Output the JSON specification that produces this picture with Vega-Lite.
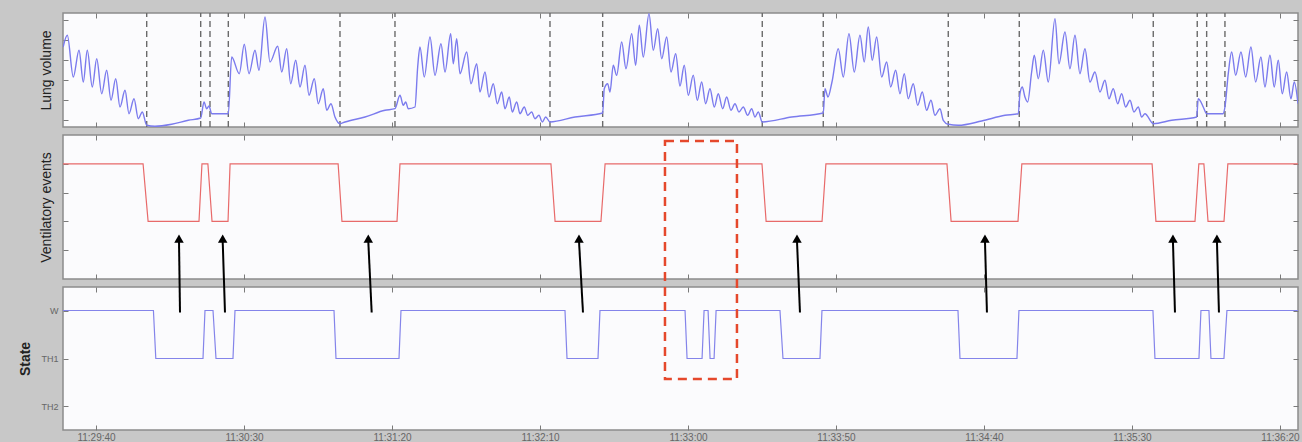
{
  "$schema": "https://vega.github.io/schema/vega-lite/v6.json",
  "background": "#c8c8c8",
  "padding": {"left": 18, "top": 11, "right": 1, "bottom": 0},
  "spacing": 8,
  "bounds": "flush",
  "config": {
    "font": "Liberation Sans",
    "view": {"fill": "#fbfbfd", "stroke": "#8c8c8c", "strokeWidth": 1.5},
    "axis": {"domain": false, "grid": false, "tickColor": "#7a7a7a", "tickSize": -5, "labelColor": "#666666", "titleColor": "#222222", "titleFontSize": 14, "titleFontWeight": "normal", "labelOverlap": false, "labelFlush": false}
  },
  "datasets": {
    "lung": [
      {"t":-11.1,"v":80},{"t":-9.7,"v":91.7},{"t":-7.67,"v":50},{"t":-5.74,"v":76.7},{"t":-4.29,"v":45},{"t":-2.94,"v":76.7},{"t":-1.25,"v":40},{"t":0.24,"v":68.3},{"t":1.93,"v":33.3},{"t":3.61,"v":56.7},{"t":5.07,"v":26.7},{"t":6.66,"v":48.3},{"t":8.11,"v":20},{"t":9.8,"v":36.7},{"t":11.15,"v":13.3},{"t":12.84,"v":28.3},{"t":14.29,"v":8.3},{"t":15.64,"v":15},{"t":17.13,"v":1.7},
      {"t":19.93,"v":0.7},{"t":25.57,"v":2.7},{"t":31.18,"v":6.7},{"t":35.37,"v":9},{"t":36.49,"v":25},{"t":37.4,"v":18.3},{"t":38.18,"v":21},{"t":39.09,"v":13.3},{"t":44.7,"v":13.3},
      {"t":45.84,"v":70},{"t":48.41,"v":53.3},{"t":50.1,"v":82.7},{"t":51.69,"v":53.3},{"t":53.72,"v":76.7},{"t":55.07,"v":56.7},{"t":57.09,"v":110},{"t":58.78,"v":65},{"t":61.39,"v":80.7},{"t":62.74,"v":55},{"t":64.43,"v":78.3},{"t":65.78,"v":43.3},{"t":67.47,"v":66.7},{"t":68.92,"v":40},{"t":70.61,"v":61.7},{"t":71.96,"v":31.7},{"t":73.75,"v":48.3},{"t":75.1,"v":23.3},{"t":76.79,"v":38.3},{"t":77.94,"v":16.7},{"t":79.39,"v":23.3},{"t":80.74,"v":10},{"t":82.43,"v":3.3},
      {"t":84.12,"v":5},{"t":90.88,"v":10},{"t":97.64,"v":16.7},{"t":101.01,"v":18.3},{"t":102.7,"v":31.7},{"t":103.82,"v":21.7},{"t":104.63,"v":25},{"t":105.51,"v":18.3},{"t":107.77,"v":20},
      {"t":108.68,"v":60},{"t":109.46,"v":80},{"t":110.91,"v":50},{"t":112.84,"v":90},{"t":114.53,"v":51.7},{"t":116.55,"v":83.3},{"t":117.91,"v":55},{"t":119.83,"v":93.3},{"t":120.71,"v":63.3},{"t":121.86,"v":88.3},{"t":122.97,"v":53.3},{"t":125.24,"v":75},{"t":126.69,"v":43.3},{"t":128.62,"v":63.3},{"t":129.73,"v":35},{"t":131.42,"v":55},{"t":132.77,"v":30},{"t":134.23,"v":43.3},{"t":135.57,"v":23.3},{"t":137.06,"v":35},{"t":138.18,"v":18.3},{"t":139.63,"v":30},{"t":140.64,"v":15},{"t":142.13,"v":25},{"t":143.24,"v":13.3},{"t":144.7,"v":20},{"t":145.85,"v":11.7},{"t":147.2,"v":15},{"t":148.31,"v":8.3},{"t":149.66,"v":11.7},{"t":150.78,"v":5},{"t":151.93,"v":10},{"t":153.38,"v":5},
      {"t":161.83,"v":10},{"t":171.18,"v":14},
      {"t":171.72,"v":38.3},{"t":172.87,"v":43.3},{"t":173.65,"v":35},{"t":174.76,"v":61.7},{"t":175.91,"v":51.7},{"t":177.6,"v":85},{"t":179.06,"v":58.3},{"t":180.98,"v":93.3},{"t":182.33,"v":61.7},{"t":183.55,"v":101.7},{"t":184.9,"v":70},{"t":186.83,"v":113.3},{"t":188.28,"v":76.7},{"t":189.77,"v":98.3},{"t":191.12,"v":68.3},{"t":192.81,"v":90},{"t":194.26,"v":55},{"t":195.85,"v":73.3},{"t":197.3,"v":41},{"t":198.75,"v":61.7},{"t":200.1,"v":31.7},{"t":201.79,"v":51.7},{"t":203.14,"v":26.7},{"t":204.63,"v":45},{"t":205.98,"v":23.3},{"t":207.43,"v":38.3},{"t":208.89,"v":20},{"t":210.24,"v":33.3},{"t":211.72,"v":18.3},{"t":213.08,"v":30},{"t":214.53,"v":16.7},{"t":215.88,"v":23.3},{"t":217.23,"v":15},{"t":218.69,"v":20},{"t":220.17,"v":11.7},{"t":221.52,"v":18.3},{"t":222.64,"v":10},{"t":223.75,"v":15},{"t":225.1,"v":5},
      {"t":235.03,"v":10},{"t":245.71,"v":14},
      {"t":246.29,"v":38.3},{"t":247.3,"v":30},{"t":248.65,"v":45},{"t":250.78,"v":78.3},{"t":252.47,"v":50},{"t":254.39,"v":93.3},{"t":256.19,"v":55},{"t":258.11,"v":91.7},{"t":259.56,"v":65},{"t":260.91,"v":100},{"t":262.26,"v":66.7},{"t":263.75,"v":90},{"t":265.44,"v":50},{"t":267.13,"v":65},{"t":268.48,"v":40},{"t":270.17,"v":56.7},{"t":271.62,"v":33.3},{"t":273.08,"v":53.3},{"t":274.43,"v":28.3},{"t":276.12,"v":43.3},{"t":277.6,"v":21.7},{"t":279.16,"v":35},{"t":280.64,"v":16.7},{"t":282.1,"v":26.7},{"t":283.45,"v":11.7},{"t":285.14,"v":18.3},{"t":286.25,"v":6.7},{"t":287.94,"v":2.7},
      {"t":291.32,"v":1.7},{"t":299.23,"v":6},{"t":307.1,"v":11.7},{"t":311.59,"v":13.3},
      {"t":312.16,"v":33.3},{"t":312.94,"v":40},{"t":313.85,"v":30},{"t":314.76,"v":25},{"t":316.11,"v":55},{"t":317.0,"v":71.7},{"t":318.35,"v":48.3},{"t":320.04,"v":76.7},{"t":321.73,"v":45},{"t":323.99,"v":108.3},{"t":325.34,"v":63.3},{"t":327.37,"v":95},{"t":329.06,"v":58.3},{"t":330.75,"v":91.7},{"t":332.43,"v":53.3},{"t":334.12,"v":78.3},{"t":335.81,"v":45},{"t":337.5,"v":55},{"t":339.19,"v":35},{"t":340.88,"v":46.7},{"t":342.23,"v":28.3},{"t":343.69,"v":38.3},{"t":345.17,"v":23.3},{"t":346.52,"v":33.3},{"t":347.87,"v":20},{"t":349.33,"v":26.7},{"t":350.68,"v":15},{"t":352.13,"v":20},{"t":353.28,"v":10},{"t":354.39,"v":13.3},{"t":357.2,"v":3.3},
      {"t":363.41,"v":6.7},{"t":371.86,"v":10},{"t":372.4,"v":28.3},{"t":373.31,"v":25},{"t":374.09,"v":20},{"t":375.24,"v":13.3},{"t":380.85,"v":13.3},{"t":381.42,"v":20},
      {"t":382.54,"v":53.3},{"t":383.69,"v":75},{"t":385.04,"v":51.7},{"t":386.83,"v":75},{"t":388.42,"v":50},{"t":390.2,"v":80},{"t":391.79,"v":45},{"t":393.58,"v":70},{"t":394.93,"v":40},{"t":396.62,"v":71.7},{"t":398.08,"v":40},{"t":399.43,"v":66.7},{"t":400.78,"v":33.3},{"t":402.26,"v":55},{"t":403.72,"v":28.3},{"t":404.84,"v":45},{"t":406.1,"v":23.3}
    ],
    "dashes": [
      {"t":17.13},{"t":35.37},{"t":38.51},{"t":44.7},{"t":82.43},{"t":101.01},{"t":153.38},{"t":171.18},{"t":225.1},{"t":245.71},{"t":287.94},{"t":311.93},{"t":357.2},{"t":372.06},{"t":375.24},{"t":381.42}
    ],
    "events": [
      {"t":-11.15,"e":4},{"t":15.9,"e":4},{"t":17.6,"e":2},{"t":34.8,"e":2},{"t":35.8,"e":4},{"t":37.8,"e":4},{"t":39.2,"e":2},{"t":44.6,"e":2},{"t":45.3,"e":4},{"t":81.8,"e":4},{"t":83.1,"e":2},{"t":101.7,"e":2},{"t":102.7,"e":4},{"t":153.7,"e":4},{"t":155.1,"e":2},{"t":170.6,"e":2},{"t":172.0,"e":4},{"t":225.0,"e":4},{"t":226.4,"e":2},{"t":245.3,"e":2},{"t":246.6,"e":4},{"t":287.5,"e":4},{"t":288.9,"e":2},{"t":311.5,"e":2},{"t":312.8,"e":4},{"t":356.8,"e":4},{"t":358.1,"e":2},{"t":371.3,"e":2},{"t":372.6,"e":4},{"t":374.3,"e":4},{"t":375.7,"e":2},{"t":381.1,"e":2},{"t":382.4,"e":4},{"t":406.1,"e":4}
    ],
    "state": [
      {"t":-11.15,"s":2},{"t":19.4,"s":2},{"t":20.2,"s":1},{"t":36.15,"s":1},{"t":36.82,"s":2},{"t":39.53,"s":2},{"t":40.54,"s":1},{"t":46.28,"s":1},{"t":46.96,"s":2},{"t":80.41,"s":2},{"t":81.08,"s":1},{"t":102.37,"s":1},{"t":103.04,"s":2},{"t":158.45,"s":2},{"t":159.13,"s":1},{"t":169.6,"s":1},{"t":170.27,"s":2},{"t":199.01,"s":2},{"t":199.69,"s":1},{"t":204.76,"s":1},{"t":205.44,"s":2},{"t":206.79,"s":2},{"t":207.47,"s":1},{"t":208.82,"s":1},{"t":209.5,"s":2},{"t":231.08,"s":2},{"t":232.1,"s":1},{"t":244.6,"s":1},{"t":245.27,"s":2},{"t":291.22,"s":2},{"t":291.9,"s":1},{"t":311.15,"s":1},{"t":311.82,"s":2},{"t":357.09,"s":2},{"t":357.77,"s":1},{"t":372.64,"s":1},{"t":373.31,"s":2},{"t":376.01,"s":2},{"t":376.69,"s":1},{"t":381.08,"s":1},{"t":382.09,"s":2},{"t":406.1,"s":2}
    ],
    "arrows": [
      {"from":28.38,"to":28.04},{"from":43.58,"to":42.8},{"from":93.14,"to":91.99},{"from":164.53,"to":163.18},{"from":237.84,"to":236.83},{"from":301.01,"to":300.34},{"from":364.53,"to":363.85},{"from":379.39,"to":378.71}
    ],
    "box": [{"t0":192.23,"t1":216.55}]
  },
  "vconcat": [
    {
      "width": 1235,
      "height": 114,
      "resolve": {"axis": {"x": "independent", "y": "independent"}},
      "layer": [
        {
          "data": {"name": "dashes"},
          "mark": {"type": "rule", "color": "#6a6a6a", "strokeDash": [6, 4], "strokeWidth": 1.4},
          "encoding": {
            "x": {"field": "t", "type": "quantitative", "scale": {"domain": [-11.15, 406.1], "nice": false, "zero": false}, "axis": {"orient": "top", "labels": false, "title": null, "values": [0, 50, 100, 150, 200, 250, 300, 350, 400]}},
            "y": {"datum": 0, "type": "quantitative", "scale": {"domain": [0, 114], "nice": false, "zero": false}, "axis": {"orient": "right", "labels": false, "title": null, "values": [7, 27, 47, 67, 87, 107]}},
            "y2": {"datum": 114}
          }
        },
        {
          "data": {"name": "lung"},
          "mark": {"type": "line", "interpolate": "monotone", "color": "#7b7bee", "strokeWidth": 1.4, "clip": true},
          "encoding": {
            "x": {"field": "t", "type": "quantitative", "axis": {"orient": "bottom", "labels": false, "title": null, "values": [0, 50, 100, 150, 200, 250, 300, 350, 400]}},
            "y": {"field": "v", "type": "quantitative", "axis": {"orient": "left", "labels": false, "title": "Lung volume", "titlePadding": 9, "values": [7, 27, 47, 67, 87, 107]}}
          }
        }
      ]
    },
    {
      "width": 1235,
      "height": 144,
      "data": {"name": "events"},
      "resolve": {"axis": {"x": "independent", "y": "independent"}},
      "layer": [
        {
          "mark": {"type": "line", "color": "#e86a6a", "strokeWidth": 1.2},
          "encoding": {
            "x": {"field": "t", "type": "quantitative", "scale": {"domain": [-11.15, 406.1], "nice": false, "zero": false}, "axis": {"orient": "bottom", "labels": false, "title": null, "values": [0, 50, 100, 150, 200, 250, 300, 350, 400]}},
            "y": {"field": "e", "type": "quantitative", "scale": {"domain": [0, 5], "nice": false, "zero": false}, "axis": {"orient": "left", "labels": false, "title": "Ventilatory events", "titlePadding": 9, "values": [1, 2, 3, 4]}}
          }
        },
        {
          "mark": {"type": "line", "strokeOpacity": 0},
          "encoding": {
            "x": {"field": "t", "type": "quantitative", "axis": {"orient": "top", "labels": false, "title": null, "values": [0, 50, 100, 150, 200, 250, 300, 350, 400]}},
            "y": {"field": "e", "type": "quantitative", "axis": {"orient": "right", "labels": false, "title": null, "values": [1, 2, 3, 4]}}
          }
        }
      ]
    },
    {
      "width": 1235,
      "height": 143,
      "resolve": {"axis": {"x": "independent", "y": "independent"}},
      "layer": [
        {
          "data": {"name": "state"},
          "mark": {"type": "line", "color": "#8484ea", "strokeWidth": 1.2},
          "encoding": {
            "x": {"field": "t", "type": "quantitative", "scale": {"domain": [-11.15, 406.1], "nice": false, "zero": false}, "axis": {"orient": "bottom", "title": null, "values": [0, 50, 100, 150, 200, 250, 300, 350, 400], "labelPadding": 7, "labelFontSize": 10, "labelExpr": "utcFormat((41380 + datum.value) * 1000, '%H:%M:%S')"}},
            "y": {"field": "s", "type": "quantitative", "scale": {"domain": [-0.49, 2.49], "nice": false, "zero": false}, "axis": {"orient": "left", "title": "State", "titleFontWeight": "bold", "titlePadding": 8, "values": [0, 1, 2], "labelPadding": 10, "labelFontSize": 9, "labelExpr": "datum.value == 2 ? 'W' : datum.value == 1 ? 'TH1' : 'TH2'"}}
          }
        },
        {
          "data": {"name": "box"},
          "mark": {"type": "rect", "filled": false, "stroke": "#e5482c", "strokeWidth": 2.5, "strokeDash": [9, 6], "clip": false},
          "encoding": {
            "x": {"field": "t0", "type": "quantitative", "axis": {"orient": "top", "labels": false, "title": null, "values": [0, 50, 100, 150, 200, 250, 300, 350, 400]}},
            "x2": {"field": "t1"},
            "y": {"datum": 0.573, "type": "quantitative", "axis": {"orient": "right", "labels": false, "title": null, "values": [0, 1, 2]}},
            "y2": {"datum": 5.531}
          }
        },
        {
          "data": {"name": "arrows"},
          "mark": {"type": "rule", "color": "#000000", "strokeWidth": 2, "clip": false},
          "encoding": {
            "x": {"field": "from", "type": "quantitative", "axis": null},
            "x2": {"field": "to"},
            "y": {"datum": 1.96, "type": "quantitative", "axis": null},
            "y2": {"datum": 3.45}
          }
        },
        {
          "data": {"name": "arrows"},
          "mark": {"type": "point", "shape": "triangle-up", "filled": true, "size": 90, "color": "#000000", "opacity": 1, "clip": false},
          "encoding": {
            "x": {"field": "to", "type": "quantitative", "axis": null},
            "y": {"datum": 3.5, "type": "quantitative", "axis": null}
          }
        }
      ]
    }
  ]
}
